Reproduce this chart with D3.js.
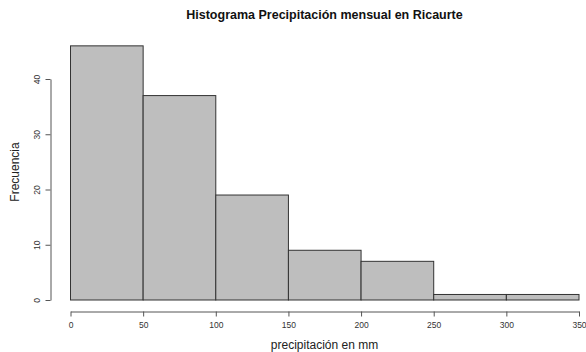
<!DOCTYPE html>
<html>
<head>
<meta charset="utf-8">
<script src="https://cdn.jsdelivr.net/npm/d3@7"></script>
<style>
  body { margin: 0; background: #fff; }
  text { font-family: "Liberation Sans", Arial, sans-serif; }
</style>
</head>
<body>
<svg id="chart"></svg>
<script>
const binStarts = [0, 50, 100, 150, 200, 250, 300];
const binWidth = 50;
const counts = [46, 37, 19, 9, 7, 1, 1];
const xTicks = [0, 50, 100, 150, 200, 250, 300, 350];
const yTicks = [0, 10, 20, 30, 40];

const width = 586;
const height = 352;

const svg = d3.select("#chart").attr("width", width).attr("height", height);

const x = d3.scaleLinear()
    .domain([0, 350])
    .range([70.5, 579]);

const y = d3.scaleLinear()
    .domain([0, 40])
    .range([300, 79]);

// Bars
svg.append("g")
    .selectAll("rect")
    .data(binStarts)
    .join("rect")
    .attr("x", (d) => x(d))
    .attr("y", (d, i) => y(counts[i]))
    .attr("width", (d) => x(d + binWidth) - x(d))
    .attr("height", (d, i) => y(0) - y(counts[i]))
    .attr("fill", "#bebebe")
    .attr("stroke", "#333")
    .attr("stroke-width", 1);

// X Axis
const xAxis = svg.append("g")
    .attr("transform", "translate(0,311.5)")
    .call(d3.axisBottom(x).tickValues(xTicks).tickSize(5).tickSizeOuter(0).tickPadding(5));
xAxis.select(".domain").attr("stroke", "#555");
xAxis.selectAll(".tick line").attr("stroke", "#555");
xAxis.selectAll("text").attr("font-size", 8.5).attr("fill", "#333")
    .attr("font-family", "Liberation Sans, Arial, sans-serif");

// Y Axis
const yAxis = svg.append("g")
    .attr("transform", "translate(50.5,0)")
    .call(d3.axisLeft(y).tickValues(yTicks).tickSize(5).tickSizeOuter(0).tickPadding(0));
yAxis.select(".domain").attr("stroke", "#555");
yAxis.selectAll(".tick line").attr("stroke", "#555");
yAxis.selectAll("text")
    .attr("font-size", 8.5).attr("fill", "#333")
    .attr("font-family", "Liberation Sans, Arial, sans-serif")
    .attr("text-anchor", "middle")
    .attr("x", 0).attr("dy", 0)
    .attr("transform", "translate(-14,0) rotate(-90)")
    .attr("dominant-baseline", "central");

// Title
svg.append("text")
    .attr("x", 324.5).attr("y", 19)
    .attr("text-anchor", "middle")
    .attr("font-size", 12.5).attr("font-weight", "bold")
    .attr("fill", "#111")
    .text("Histograma Precipitación mensual en Ricaurte");

// X label
svg.append("text")
    .attr("x", 324.5).attr("y", 349)
    .attr("text-anchor", "middle")
    .attr("font-size", 12).attr("fill", "#222")
    .text("precipitación en mm");

// Y label
svg.append("text")
    .attr("transform", "translate(19,172) rotate(-90)")
    .attr("text-anchor", "middle")
    .attr("font-size", 12).attr("fill", "#222")
    .text("Frecuencia");
</script>
</body>
</html>
